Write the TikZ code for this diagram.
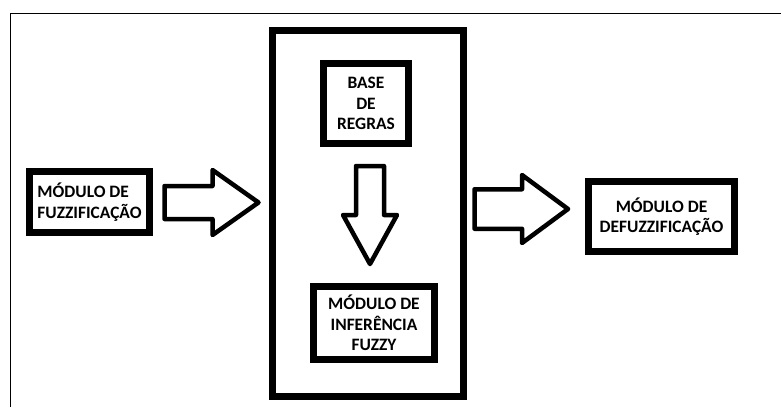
\documentclass[tikz,border=0pt]{standalone}
\usepackage{fontspec}
\setmainfont{Carlito}
\tikzset{
  frameline/.style={line width=1.3pt, draw=black},
  thickbox/.style={draw=black, line width=7pt, fill=white, inner sep=0pt,
    align=center, font=\fontsize{17.4}{20.5}\selectfont\bfseries},
  arrowline/.style={draw=black, line width=4.5pt, line join=round, fill=white},
  pics/hollowarrow/.style args={#1/#2/#3/#4}{code={
    \draw[arrowline] (0,-#2) -- (#1-#4,-#2) -- (#1-#4,-#3) -- (#1,0)
      -- (#1-#4,#3) -- (#1-#4,#2) -- (0,#2) -- cycle;
  }}
}
\begin{document}
\begin{tikzpicture}[x=1pt,y=-1pt]
  \useasboundingbox (0,0) rectangle (781,407);
  \fill[white] (0,0) rectangle (781,407);

  % outer frame: top and left edges only
  \coordinate (frametl) at (10.5,13.5);
  \coordinate (frametr) at (781,13.5);
  \coordinate (framebl) at (10.5,407);
  \draw[frameline] (frametr) -- (frametl) -- (framebl);

  % inference engine container
  \node[thickbox, minimum width=191pt, minimum height=366pt] (engine) at (368,213.5) {};

  % modules
  \node[thickbox, align=left, minimum width=120pt, minimum height=61pt] (fuzz) at (89.5,202)
    {MÓDULO DE\\FUZZIFICAÇÃO};
  \node[thickbox, minimum width=85pt, minimum height=80pt] (rules) at (366,103.5)
    {BASE\\DE\\REGRAS};
  \node[thickbox, minimum width=121pt, minimum height=73pt] (infer) at (374,323)
    {MÓDULO DE\\INFERÊNCIA\\FUZZY};
  \node[thickbox, minimum width=146pt, minimum height=70pt] (defuzz) at (661.5,216.5)
    {MÓDULO DE\\DEFUZZIFICAÇÃO};

  % block arrows: length / shaft half width / head half width / head length
  \pic at (164.5,202.5) {hollowarrow={94/16.5/32.5/46}};
  \pic[rotate=-90] at (370,166) {hollowarrow={98/14/27/49}};
  \pic at (474.5,209) {hollowarrow={93.5/19.75/34/46}};
\end{tikzpicture}
\end{document}
